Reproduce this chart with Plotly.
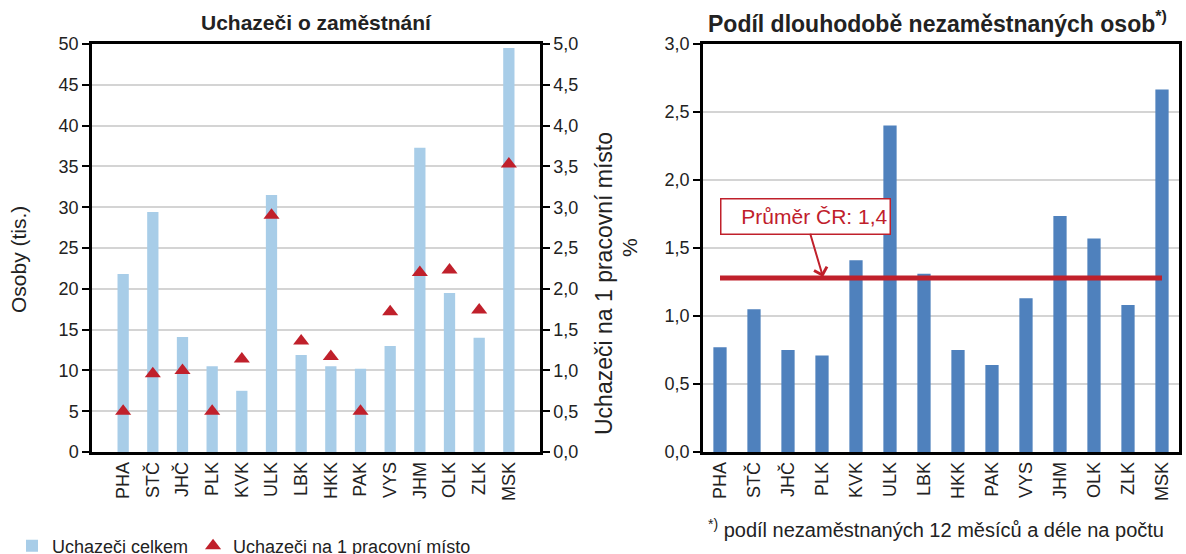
import plotly.graph_objects as go

# ---- data ----
regions = ["PHA", "STČ", "JHČ", "PLK", "KVK", "ULK", "LBK", "HKK", "PAK", "VYS", "JHM", "OLK", "ZLK", "MSK"]
applicants_total = [21.8, 29.4, 14.1, 10.5, 7.5, 31.5, 11.9, 10.5, 10.2, 13.0, 37.3, 19.5, 14.0, 49.5]
applicants_per_job = [0.50, 0.96, 1.00, 0.50, 1.14, 2.90, 1.36, 1.17, 0.50, 1.72, 2.20, 2.23, 1.74, 3.53]
long_term_share = [0.77, 1.05, 0.75, 0.71, 1.41, 2.40, 1.31, 0.75, 0.64, 1.13, 1.735, 1.57, 1.08, 2.665]
cr_average_line = 1.28
cr_average_label = "Průměr ČR: 1,4"

W, H = 1186, 554
FONT = "Liberation Sans, Arial, sans-serif"
BLUE_L = "#a8cde8"
BLUE_D = "#4f81bd"
RED = "#c0202b"
GRID = "#d4d4d4"

def px_x(v):
    return v / W

def px_y(v):
    return 1 - v / H

fig = go.Figure()

fig.add_trace(go.Bar(
    x=regions, y=applicants_total, name="Uchazeči celkem",
    marker=dict(color=BLUE_L, line=dict(width=0)),
    xaxis="x", yaxis="y", width=0.38,
))
fig.add_trace(go.Scatter(
    x=regions, y=applicants_per_job, name="Uchazeči na 1 pracovní místo",
    mode="markers", marker=dict(symbol="triangle-up", size=14, color=RED),
    xaxis="x", yaxis="y2",
))
fig.add_trace(go.Bar(
    x=regions, y=long_term_share, name="Podíl",
    marker=dict(color=BLUE_D, line=dict(width=0)),
    xaxis="x2", yaxis="y3", width=0.39, showlegend=False,
))
fig.add_trace(go.Scatter(
    x=[regions[0], regions[-1]], y=[cr_average_line, cr_average_line],
    mode="lines", line=dict(color=RED, width=5), showlegend=False,
    xaxis="x2", yaxis="y3",
))

ydom = [px_y(452), px_y(44)]
axis_common = dict(showline=True, linecolor="black", linewidth=2.5, automargin=False,
                   tickfont=dict(family=FONT, size=18, color="#222"))

fig.update_layout(
    width=W, height=H, autosize=False,
    margin=dict(l=0, r=0, t=0, b=0, pad=0, autoexpand=False),
    paper_bgcolor="white", plot_bgcolor="white",
    separators=", ",
    font=dict(family=FONT, size=18, color="#222"),
    showlegend=True,
    legend=dict(orientation="h", x=px_x(12), y=px_y(546), yanchor="middle", xanchor="left",
                font=dict(family=FONT, size=18, color="#222"),
                itemwidth=30, tracegroupgap=0, bgcolor="rgba(0,0,0,0)"),
    xaxis=dict(domain=[px_x(92), px_x(540)], anchor="y", mirror=True, ticks="",
               tickangle=-90, showgrid=False, **axis_common),
    yaxis=dict(domain=ydom, anchor="x", range=[0, 50], dtick=5, tickformat="d",
               ticks="outside", ticklen=7, tickwidth=2, tickcolor="black",
               showgrid=True, gridcolor=GRID, gridwidth=1.5, zeroline=False, **axis_common),
    yaxis2=dict(overlaying="y", side="right", anchor="x", range=[0, 5], dtick=0.5, tickformat=".1f",
                ticks="outside", ticklen=7, tickwidth=2, tickcolor="black",
                showgrid=False, zeroline=False, **axis_common),
    xaxis2=dict(domain=[px_x(703), px_x(1179)], anchor="y3", mirror=True, ticks="",
                tickangle=-90, showgrid=False, **axis_common),
    yaxis3=dict(domain=ydom, anchor="x2", range=[0, 3], dtick=0.5, tickformat=".1f", mirror=True,
                ticks="outside", ticklen=7, tickwidth=2, tickcolor="black",
                showgrid=True, gridcolor=GRID, gridwidth=1.5, zeroline=False, **axis_common),
)

def label(text, x, y, size=18, angle=0, xanchor="center", color="#222"):
    return dict(text=text, x=px_x(x), y=px_y(y), xref="paper", yref="paper",
                xanchor=xanchor, yanchor="middle", showarrow=False, textangle=angle,
                font=dict(family=FONT, size=size, color=color))

ann = [
    label("<b>Uchazeči o zaměstnání</b>", 317, 22, size=21),
    label("<b>Podíl dlouhodobě nezaměstnaných osob<sup>*)</sup></b>", 937, 22, size=23),
    label("Osoby (tis.)", 18, 260, size=21, angle=-90),
    label("Uchazeči na 1 pracovní místo", 604, 283, size=23, angle=-90),
    label("%", 630, 248, size=21, angle=-90),
    label("<sup>*)</sup> podíl nezaměstnaných 12 měsíců a déle na počtu", 706, 528, size=20, xanchor="left"),
    dict(text=cr_average_label, x=px_x(823), y=px_y(277), xref="paper", yref="paper",
         ax=-18, ay=-61, showarrow=True, arrowhead=4, arrowsize=1.3, arrowwidth=2, arrowcolor=RED,
         bordercolor=RED, borderwidth=1.5, borderpad=2, bgcolor="white",
         width=164, height=30, align="right",
         font=dict(family=FONT, size=21, color=RED)),
]
fig.update_layout(annotations=ann)

fig.write_html("out.html", config={"displayModeBar": False},
               post_script="document.body.style.margin='0';document.body.style.overflow='hidden';")
